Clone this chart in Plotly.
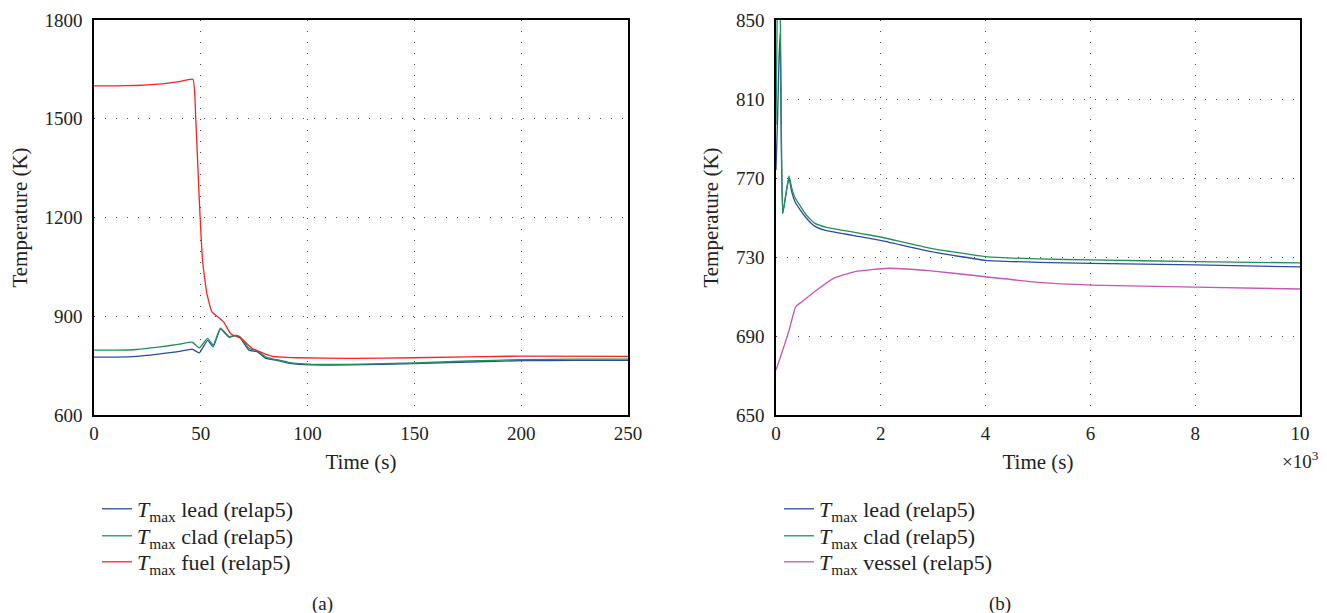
import plotly.graph_objects as go

# ---------------- data: panel (a) ----------------
t_a = [0, 10, 20, 30, 40, 46, 49.3, 53.2, 55.8, 59.2, 63.3, 66.5, 68.4, 72.5, 76.5,
       80.5, 85.6, 91.7, 102, 120, 150, 175, 200, 225, 250]
lead_a = [776, 776, 778, 785, 793, 800, 789, 827, 807, 862, 836, 842, 835, 797, 792,
          772, 766, 757, 752, 752, 756, 761, 765, 766, 766]
clad_a = [797, 797, 799, 806, 815, 821, 804, 833, 812, 864, 838, 842, 838, 803, 795,
          776, 768, 759, 754, 754, 758, 764, 768, 770, 770]
t_fuel = [0, 10, 20, 30, 40, 46.3, 47.6, 49.3, 50.8, 52.8, 55.2, 58, 60.7, 64, 69,
          74, 83, 95, 120, 150, 200, 250]
fuel_a = [1600, 1600, 1601, 1605, 1613, 1620, 1506, 1253, 1070, 970, 913, 898, 883,
          847, 832, 803, 779, 774, 772, 774, 779, 778]

# ---------------- data: panel (b) ----------------
t_b = [0, 30, 57, 80, 100, 128, 190, 248, 300, 363, 458, 585, 744, 967, 1603, 2017,
       2958, 4000, 5000, 6000, 8000, 10000]
lead_b = [774, 800, 830, 843, 790, 752, 762, 770, 763, 758, 754, 749.5, 745.5, 743.3,
          740.3, 738.3, 732.7, 728.3, 727.3, 726.8, 726, 725]
clad_b = [797, 870, 880, 860, 800, 752, 762, 771, 765, 760, 756, 751, 747, 745,
          742, 740, 734.4, 730.2, 729, 728.5, 727.7, 727]
t_vessel = [0, 131, 252, 374, 496, 779, 1101, 1507, 2153, 2958, 4000, 5070, 6000,
            8000, 10000]
vessel_b = [672.8, 683, 693, 704.8, 707.4, 713.3, 719.2, 722.6, 724.3, 723, 720, 717,
            715.8, 714.7, 713.8]

xticks_a = [0, 50, 100, 150, 200, 250]
yticks_a = [600, 900, 1200, 1500, 1800]
xticks_b = [0, 2000, 4000, 6000, 8000, 10000]
xticklabels_b = ["0", "2", "4", "6", "8", "10"]
yticks_b = [650, 690, 730, 770, 810, 850]

# page body has an 8 px margin, so the figure is drawn 8 px in from the corner
OFF = 8
W, H = 1327 - OFF, 613 - OFF
FONT = "Liberation Serif"
TXT = "#222"
BLUE, GREEN, RED, MAG = "#2b4c9e", "#22905a", "#f22424", "#c855b8"


def px(x):
    return (x - OFF) / W


def py(y):
    return 1 - (y - OFF) / H


fig = go.Figure()

ROWS = [509, 536, 562]
LEGX_A, LEGX_B = 97, 779


def add(x, y, name, color, xa, ya, leg):
    fig.add_trace(go.Scatter(
        x=x, y=y, name=name, mode="lines",
        line=dict(color=color, width=1.3, shape="spline", smoothing=0.4),
        xaxis=xa, yaxis=ya, legend=leg))


lab = lambda s: "<i>T</i><sub>max</sub> " + s + " (relap5)"
add(t_a, lead_a, lab("lead"), BLUE, "x", "y", "legend")
add(t_a, clad_a, lab("clad"), GREEN, "x", "y", "legend2")
add(t_fuel, fuel_a, lab("fuel"), RED, "x", "y", "legend3")
add(t_b, lead_b, lab("lead"), BLUE, "x2", "y2", "legend4")
add(t_b, clad_b, lab("clad"), GREEN, "x2", "y2", "legend5")
add(t_vessel, vessel_b, lab("vessel"), MAG, "x2", "y2", "legend6")


def leg(xpage, ypage):
    return dict(x=px(xpage), y=py(ypage), xanchor="left", yanchor="middle",
                bgcolor="rgba(0,0,0,0)", borderwidth=0,
                font=dict(family=FONT, size=22, color=TXT))


axis = dict(showgrid=True, gridcolor="#444", gridwidth=1, griddash="1px,10px",
            zeroline=False, showline=True, linecolor="black", linewidth=1.5,
            mirror=True, ticks="", automargin=False,
            tickfont=dict(family=FONT, size=19, color=TXT))
ttl = dict(family=FONT, size=21, color=TXT)

fig.update_layout(
    width=W, height=H, margin=dict(l=0, r=0, t=0, b=0),
    paper_bgcolor="white", plot_bgcolor="white",
    font=dict(family=FONT, size=19, color=TXT),
    xaxis=dict(domain=[px(94), px(628)], range=[0, 250], tickvals=xticks_a,
               anchor="y", ticklabelstandoff=0,
               title=dict(text="Time (s)", standoff=12, font=ttl), **axis),
    yaxis=dict(domain=[py(415), py(20)], range=[600, 1800], tickvals=yticks_a,
               anchor="x", ticklabelstandoff=6,
               title=dict(text="Temperature (K)", standoff=12, font=ttl), **axis),
    xaxis2=dict(domain=[px(776), px(1300)], range=[0, 10000], tickvals=xticks_b,
                ticktext=xticklabels_b, anchor="y2", ticklabelstandoff=0,
                title=dict(text="Time (s)", standoff=12, font=ttl), **axis),
    yaxis2=dict(domain=[py(415), py(20)], range=[650, 850], tickvals=yticks_b,
                anchor="x2", ticklabelstandoff=6,
                title=dict(text="Temperature (K)", standoff=12, font=ttl), **axis),
    legend=leg(LEGX_A, ROWS[0]),
    legend2=leg(LEGX_A, ROWS[1]),
    legend3=leg(LEGX_A, ROWS[2]),
    legend4=leg(LEGX_B, ROWS[0]),
    legend5=leg(LEGX_B, ROWS[1]),
    legend6=leg(LEGX_B, ROWS[2]),
    showlegend=True,
    annotations=[
        dict(text="×10<sup>3</sup>", x=px(1300), y=py(460), xref="paper", yref="paper",
             showarrow=False, xanchor="center", yanchor="middle",
             font=dict(family=FONT, size=19, color=TXT)),
        dict(text="(a)", x=px(322), y=py(604), xref="paper", yref="paper",
             showarrow=False, xanchor="center", yanchor="middle",
             font=dict(family=FONT, size=19, color=TXT)),
        dict(text="(b)", x=px(1000), y=py(604), xref="paper", yref="paper",
             showarrow=False, xanchor="center", yanchor="middle",
             font=dict(family=FONT, size=19, color=TXT)),
    ],
)

fig.write_html("out.html")
